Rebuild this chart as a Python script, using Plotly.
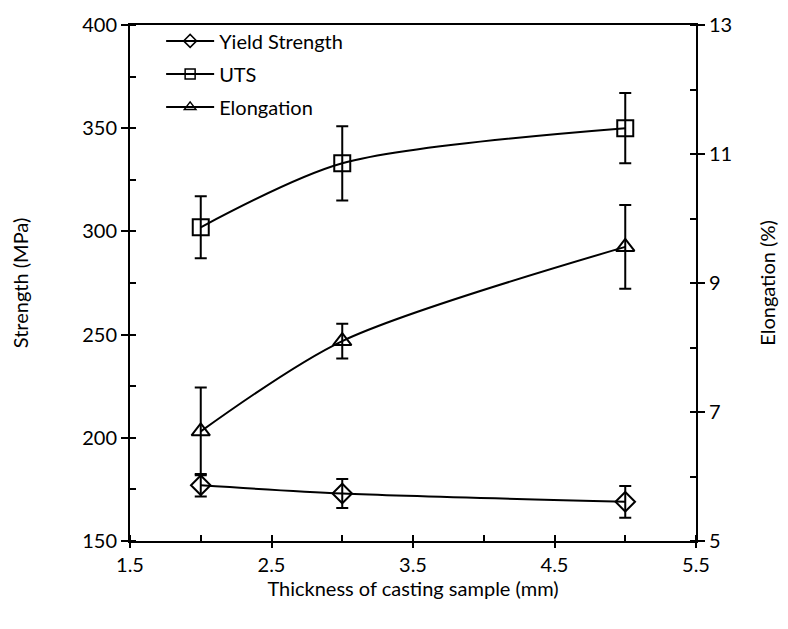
import plotly.graph_objects as go

# Casting thickness (mm)
thickness = [2, 3, 5]

# Strength (MPa) with standard deviations
yield_strength = [177, 173, 169]
yield_err = [5.5, 7, 7.7]
uts = [302, 333, 350]
uts_err = [15, 18, 17]

# Elongation (%) with standard deviations
elongation = [6.7, 8.1, 9.56]
elong_err = [0.68, 0.27, 0.65]

FONT = "Lato"
BLACK = "black"
FS = 20

fig = go.Figure()

def err(vals):
    return dict(type="data", array=vals, visible=True, color=BLACK, thickness=2, width=6)

series = [
    ("Yield Strength", yield_strength, yield_err, "diamond-open", 15, "y"),
    ("UTS", uts, uts_err, "square-open", 16, "y"),
    ("Elongation", elongation, elong_err, "triangle-up-open", 16, "y2"),
]

for name, vals, e, sym, size, ax in series:
    fig.add_trace(go.Scatter(
        x=thickness, y=vals, yaxis=ax, mode="lines+markers",
        line=dict(color=BLACK, width=2, shape="spline", smoothing=0.8),
        marker=dict(symbol=sym, size=size, color=BLACK, line=dict(width=2, color=BLACK)),
        error_y=err(e), showlegend=False, name=name,
    ))

# Legend entries with compact markers
for i, (name, vals, e, sym, size, ax) in enumerate(series):
    fig.add_trace(go.Scatter(
        x=[None], y=[None], yaxis=ax, mode="lines+markers", name=name,
        line=dict(color=BLACK, width=2),
        marker=dict(symbol=sym, size=10, color=BLACK, line=dict(width=1.5, color=BLACK)),
        legendgroup=f"g{i}", showlegend=True,
    ))

fig.update_layout(
    width=788, height=629,
    margin=dict(l=130, r=92, t=18, b=88),
    paper_bgcolor="white", plot_bgcolor="white",
    font=dict(family=FONT, size=FS, color=BLACK),
    showlegend=True,
    legend=dict(x=0.055, y=1.007, xanchor="left", yanchor="top", bgcolor="rgba(0,0,0,0)",
                font=dict(family=FONT, size=FS), tracegroupgap=4, itemwidth=48),
    xaxis=dict(
        range=[1.5, 5.5], tick0=1.5, dtick=1, showgrid=False, zeroline=False,
        showline=True, linecolor=BLACK, linewidth=2, mirror=True,
        ticks="outside", ticklen=5, tickwidth=2, tickcolor=BLACK,
        minor=dict(ticks="inside", ticklen=6, tickwidth=2, tickcolor=BLACK, dtick=0.5, showgrid=False),
        title=dict(text="Thickness of casting sample (mm)", font=dict(size=FS), standoff=2),
        tickfont=dict(size=FS),
    ),
    yaxis=dict(
        range=[150, 400], dtick=50, showgrid=False, zeroline=False,
        showline=True, linecolor=BLACK, linewidth=2,
        ticks="outside", ticklen=7, tickwidth=2, tickcolor=BLACK,
        minor=dict(ticks="inside", ticklen=6, tickwidth=2, tickcolor=BLACK, dtick=25, showgrid=False),
        title=dict(text="Strength (MPa)", font=dict(size=FS), standoff=48),
        tickfont=dict(size=FS),
    ),
    yaxis2=dict(
        range=[5, 13], tick0=5, dtick=2, overlaying="y", side="right", showgrid=False, zeroline=False,
        showline=True, linecolor=BLACK, linewidth=2,
        ticks="outside", ticklen=7, tickwidth=2, tickcolor=BLACK,
        minor=dict(ticks="inside", ticklen=6, tickwidth=2, tickcolor=BLACK, tick0=5, dtick=1, showgrid=False),
        title=dict(text="Elongation (%)", font=dict(size=FS), standoff=30),
        tickfont=dict(size=FS),
    ),
)

fig.write_html("out.html")
